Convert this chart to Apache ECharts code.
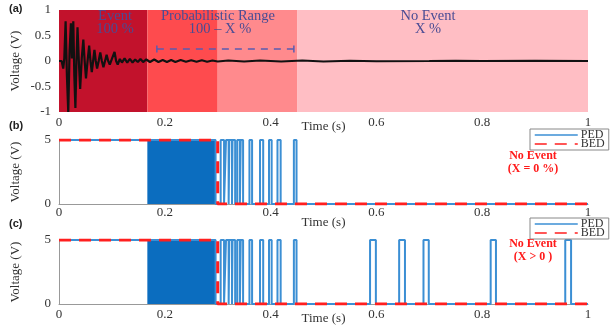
<!DOCTYPE html>
<html>
<head>
<meta charset="utf-8">
<script src="https://cdn.jsdelivr.net/npm/echarts@6/dist/echarts.min.js"></script>
<style>
  html, body { margin: 0; padding: 0; background: #fff; }
  #chart { width: 614px; height: 330px; }
</style>
</head>
<body>
<div id="chart"></div>
<script>
// panel (a): damped vibration signal
const waveTime = [0, 0.005, 0.008, 0.010, 0.0125, 0.015, 0.0175, 0.020, 0.0225, 0.0245, 0.027, 0.029, 0.031, 0.033, 0.035, 0.0375,
  0.040, 0.043, 0.046, 0.0485, 0.051, 0.054, 0.057, 0.0595, 0.062, 0.0645, 0.067, 0.0695, 0.072, 0.075, 0.078, 0.081, 0.084,
  0.087, 0.090, 0.093, 0.096, 0.100, 0.105, 0.108, 0.111, 0.115, 0.119, 0.124, 0.129, 0.134, 0.139, 0.144, 0.149, 0.154, 0.159,
  0.165, 0.172, 0.180, 0.188, 0.196, 0.204, 0.212, 0.220, 0.230, 0.240, 0.250, 0.260, 0.270, 0.280, 0.290, 0.300, 0.320, 0.350,
  0.380, 0.420, 0.460, 0.500, 0.550, 0.600, 0.700, 0.750, 0.800, 0.900, 1.0]
const waveVolt = [0, 0, -0.15, 0.05, 0.78, -0.3, -1.0, 0.2, 0.74, 0.05, 0.78, -0.3, -0.92, 0.0, 0.66, 0.0,
  -0.55, 0.05, 0.42, 0.0, -0.34, 0.0, 0.3, 0.0, -0.22, 0.0, 0.22, 0.0, -0.15, 0.0, 0.17, 0.0, -0.12,
  0.0, 0.12, 0.0, -0.07, 0.04, 0.18, 0.0, -0.07, 0.04, -0.03, 0.05, -0.03, 0.04, -0.03, 0.03, -0.02, 0.04, -0.02,
  0.03, -0.02, 0.03, -0.02, 0.02, -0.02, 0.02, -0.02, 0.02, -0.015, 0.015, -0.015, 0.015, -0.015, 0.01, -0.01, 0.01, -0.01,
  0.01, -0.01, 0.01, -0.01, 0.005, -0.005, 0, 0.005, 0, 0.005, 0]

// background bands of panel (a)
const bandEdges = [0, 0.167, 0.30, 0.45, 1]
const bandColors = ['#c2122c', '#fe4b4e', '#ff8a8d', '#ffbec4']
const rangeMarker = [0.185, 0.444]
const rangeMarkerLevel = 0.235

// panels (b) and (c)
const burstRange = [0.167, 0.296]
const pulsesB = [[0.3056, 0.312], [0.3157, 0.3207], [0.322, 0.327], [0.328, 0.333], [0.337, 0.342], [0.3435, 0.348],
  [0.360, 0.365], [0.380, 0.386], [0.397, 0.402], [0.413, 0.419], [0.444, 0.449]]
const pulsesExtraC = [[0.588, 0.599], [0.643, 0.654], [0.689, 0.699], [0.816, 0.826], [0.957, 0.968]]
const bedTime = [0, 0.30, 0.30, 1]
const bedVolt = [5, 5, 0, 0]
const highLevel = 5

const serif = '"Liberation Serif", "DejaVu Serif", serif'
const pedColor = '#3b8fd4'
const bedColor = '#ff1f1f'

const chart = echarts.init(document.getElementById('chart'))

const pedLine = (pulses) => {
  const pts = [[0, highLevel], [burstRange[1], highLevel], [burstRange[1], 0]]
  pulses.forEach(p => {
    pts.push([p[0], 0], [p[0], highLevel], [p[1], highLevel], [p[1], 0])
  })
  pts.push([1, 0])
  return pts
}

const grids = [
  { left: 59, right: 26, top: 10, height: 102 },
  { left: 59, right: 26, top: 140, height: 64 },
  { left: 59, right: 26, top: 240, height: 64 }
]

const xAxisFor = (i, margin, gap) => ({
  type: 'value', gridIndex: i, min: 0, max: 1, interval: 0.2,
  name: 'Time (s)', nameLocation: 'middle', nameGap: gap, nameMoveOverlap: false,
  nameTextStyle: { fontFamily: serif, fontSize: 13, color: '#333' },
  axisLine: { show: i > 0, onZero: false, lineStyle: { color: '#999', width: 1 } },
  axisTick: { show: false },
  splitLine: { show: false },
  axisLabel: { fontFamily: serif, fontSize: 13, color: '#333', margin: margin,
    formatter: v => String(Number(v.toFixed(1))) }
})

const yAxisFor = (i, min, max, interval) => ({
  type: 'value', gridIndex: i, min: min, max: max, interval: interval,
  name: 'Voltage (V)', nameLocation: 'middle', nameGap: 37, nameMoveOverlap: false,
  nameTextStyle: { fontFamily: serif, fontSize: 13, color: '#333' },
  axisLine: { show: i > 0, lineStyle: { color: '#999', width: 1 } },
  axisTick: { show: false },
  splitLine: { show: false },
  axisLabel: { fontFamily: serif, fontSize: 13, color: '#333', margin: 8 }
})

const pedSeries = (i, pulses) => [
  {
    name: 'PEDburst', type: 'line', xAxisIndex: i, yAxisIndex: i, symbol: 'none', z: 2,
    data: [[burstRange[0], highLevel], [burstRange[1], highLevel]],
    lineStyle: { width: 0 }, areaStyle: { color: '#0b6dbf', opacity: 1 }
  },
  {
    name: 'PED', type: 'line', xAxisIndex: i, yAxisIndex: i, symbol: 'none', z: 3,
    data: pedLine(pulses),
    lineStyle: { color: pedColor, width: 2 }, itemStyle: { color: pedColor }
  },
  {
    name: 'BED', type: 'line', xAxisIndex: i, yAxisIndex: i, symbol: 'none', z: 4,
    data: bedTime.map((t, k) => [t, bedVolt[k]]),
    lineStyle: { color: bedColor, width: 3, type: [12, 8] }, itemStyle: { color: bedColor }
  }
]

const legendFor = (top) => ({
  orient: 'vertical', left: 530, top: top, z: 20,
  data: ['PED', 'BED'],
  itemWidth: 43, itemHeight: 8, itemGap: -3,
  padding: [0, 4, 0, 4],
  borderColor: '#888', borderWidth: 1, backgroundColor: '#fff',
  selectedMode: false,
  itemStyle: { opacity: 0 },
  lineStyle: { width: 1.5 },
  textStyle: { fontFamily: serif, fontSize: 12, lineHeight: 9, height: 9, color: '#333', padding: [0, 0, 0, -2] }
})

const bandText = (text, x, y) => ({
  type: 'text', x: x, y: y, z: 100,
  style: { text: text, fill: '#4a4c94', font: '14.5px ' + serif, textAlign: 'center', textVerticalAlign: 'middle' }
})

const redText = (text, x, y) => ({
  type: 'text', x: x, y: y, z: 100,
  style: { text: text, fill: '#ff1a1a', font: 'bold 12px ' + serif, textAlign: 'center', textVerticalAlign: 'middle' }
})

const panelTag = (text, y) => ({
  type: 'text', left: 9, top: y, z: 100,
  style: { text: text, fill: '#222', font: 'bold 11px "Liberation Sans", Arial, sans-serif' }
})

const option = {
  animation: false,
  grid: grids,
  xAxis: [xAxisFor(0, 4, 8), xAxisFor(1, 2, 12), xAxisFor(2, 4, 8)],
  yAxis: [yAxisFor(0, -1, 1, 0.5), yAxisFor(1, 0, 5, 5), yAxisFor(2, 0, 5, 5)],
  legend: [legendFor(129), legendFor(218)],
  series: [
    {
      name: 'bands', type: 'line', xAxisIndex: 0, yAxisIndex: 0, data: [], z: 1,
      markArea: {
        silent: true,
        data: bandColors.map((c, k) => [
          { xAxis: bandEdges[k], itemStyle: { color: c, opacity: 1 } },
          { xAxis: bandEdges[k + 1] }
        ])
      }
    },
    {
      name: 'range', type: 'line', xAxisIndex: 0, yAxisIndex: 0, symbol: 'none', z: 3,
      data: rangeMarker.map(t => [t, rangeMarkerLevel]),
      lineStyle: { color: '#5a5cb0', width: 1.5, type: [7, 6] }
    },
    {
      name: 'rangeCapL', type: 'line', xAxisIndex: 0, yAxisIndex: 0, symbol: 'none', z: 3,
      data: [[rangeMarker[0], rangeMarkerLevel - 0.07], [rangeMarker[0], rangeMarkerLevel + 0.07]],
      lineStyle: { color: '#5a5cb0', width: 1.5 }
    },
    {
      name: 'rangeCapR', type: 'line', xAxisIndex: 0, yAxisIndex: 0, symbol: 'none', z: 3,
      data: [[rangeMarker[1], rangeMarkerLevel - 0.07], [rangeMarker[1], rangeMarkerLevel + 0.07]],
      lineStyle: { color: '#5a5cb0', width: 1.5 }
    },
    {
      name: 'wave', type: 'line', xAxisIndex: 0, yAxisIndex: 0, symbol: 'none', z: 4,
      data: waveTime.map((t, k) => [t, waveVolt[k]]),
      lineStyle: { color: '#111', width: 2.2 }
    },
    ...pedSeries(1, pulsesB),
    ...pedSeries(2, pulsesB.concat(pulsesExtraC))
  ],
  graphic: [
    panelTag('(a)', 3), panelTag('(b)', 120), panelTag('(c)', 218),
    bandText('Event', 115, 16), bandText('100 %', 115, 29),
    bandText('Probabilistic Range', 218, 16), bandText('100 \u2013 X %', 220, 29),
    bandText('No Event', 428, 16), bandText('X %', 428, 29),
    redText('No Event', 533, 156), redText('(X = 0 %)', 533, 169),
    redText('No Event', 533, 244), redText('(X > 0 )', 533, 257)
  ]
}

chart.setOption(option)
</script>
</body>
</html>
